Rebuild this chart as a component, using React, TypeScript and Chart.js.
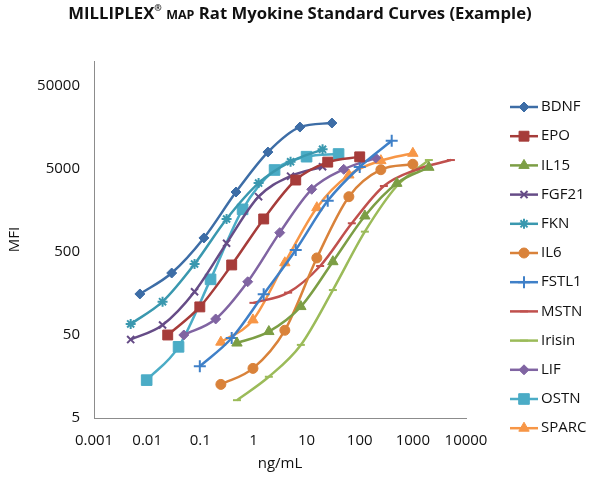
import React, { useEffect, useRef } from 'react';
import { Chart, registerables } from 'chart.js';
import { drawPoint } from 'chart.js/helpers';

Chart.register(...registerables);

// series names, in legend order
const seriesNames = ['BDNF', 'EPO', 'IL15', 'FGF21', 'FKN', 'IL6', 'FSTL1', 'MSTN', 'Irisin', 'LIF', 'OSTN', 'SPARC'];

// concentrations (ng/mL) and MFI per analyte
const bdnfConc = [0.0073, 0.029, 0.117, 0.47, 1.875, 7.5, 30];
const bdnfMfi = [156, 279, 738, 2640, 8000, 16000, 17900];

const epoConc = [0.0244, 0.098, 0.39, 1.56, 6.25, 25, 100];
const epoMfi = [50, 109, 349, 1250, 3680, 6050, 7000];

const il15Conc = [0.49, 1.95, 7.8, 31.25, 125, 500, 2000];
const il15Mfi = [40, 55, 110, 382, 1358, 3364, 5240];

const fgf21Conc = [0.0049, 0.0195, 0.078, 0.3125, 1.25, 5, 20];
const fgf21Mfi = [44, 66, 166, 637, 2318, 4100, 5330];

const fknConc = [0.0049, 0.0195, 0.078, 0.3125, 1.25, 5, 20];
const fknMfi = [68, 126, 358, 1250, 3380, 6120, 8630];

const il6Conc = [0.244, 0.98, 3.9, 15.6, 62.5, 250, 1000];
const il6Mfi = [12.7, 19.8, 57, 424, 2318, 4900, 5700];

const fstl1Conc = [0.098, 0.39, 1.56, 6.25, 25, 100, 400];
const fstl1Mfi = [21, 46, 155, 529, 2070, 5290, 10960];

const mstnConc = [1, 4.5, 18, 71, 285, 1150, 5200];
const mstnMfi = [122, 162, 339, 1109, 3121, 4900, 6410];

const irisinConc = [0.49, 1.95, 7.8, 31.25, 125, 500, 2000];
const irisinMfi = [8.2, 15.7, 38, 174, 879, 3120, 6410];

const lifConc = [0.049, 0.195, 0.78, 3.125, 12.5, 50, 200];
const lifMfi = [50, 78, 219, 855, 2846, 4955, 6790];

const ostnConc = [0.0098, 0.039, 0.156, 0.625, 2.5, 10, 40];
const ostnMfi = [14.3, 36, 234, 1633, 4862, 7033, 7580];

const sparcConc = [0.244, 0.98, 3.9, 15.6, 62.5, 250, 1000];
const sparcMfi = [41, 76, 371, 1709, 4233, 6300, 7727];

const xTicks = [0.001, 0.01, 0.1, 1, 10, 100, 1000, 10000];
const yTicks = [5, 50, 500, 5000, 50000];

const concs = [bdnfConc, epoConc, il15Conc, fgf21Conc, fknConc, il6Conc, fstl1Conc, mstnConc, irisinConc, lifConc, ostnConc, sparcConc];
const mfis = [bdnfMfi, epoMfi, il15Mfi, fgf21Mfi, fknMfi, il6Mfi, fstl1Mfi, mstnMfi, irisinMfi, lifMfi, ostnMfi, sparcMfi];

const colors = ['#3D6DA6', '#A63C3A', '#7C9E45', '#664C87', '#3A98AF', '#D9823A', '#3F80C8', '#C0504D', '#9BBB59', '#8064A2', '#4BACC6', '#F79646'];
const markers = ['rectRot', 'rect', 'triangle', 'crossRot', 'star', 'circle', 'cross', 'line', 'line', 'rectRot', 'rect', 'triangle'];
const markerSizes = [5, 7, 6, 5, 5, 5, 6, 4, 4, 5, 7.5, 6];

const FONT = "'Open Sans', sans-serif";

const sideLegend = {
    id: 'sideLegend',
    afterDraw(chart: any) {
        const ctx = chart.ctx;
        chart.data.datasets.forEach((ds: any, i: number) => {
            const y = 107 + i * 29.2;
            ctx.save();
            ctx.strokeStyle = ds.borderColor;
            ctx.lineWidth = 2.5;
            ctx.beginPath();
            ctx.moveTo(510, y);
            ctx.lineTo(538, y);
            ctx.stroke();
            ctx.fillStyle = ds.pointBackgroundColor;
            ctx.strokeStyle = ds.pointBorderColor;
            ctx.lineWidth = ds.pointBorderWidth;
            drawPoint(ctx, { pointStyle: ds.pointStyle, radius: ds.pointRadius, rotation: 0, borderWidth: ds.pointBorderWidth }, 524, y);
            ctx.fillStyle = '#111';
            ctx.font = `15px ${FONT}`;
            ctx.textAlign = 'left';
            ctx.textBaseline = 'middle';
            ctx.fillText(ds.label, 541, y);
            ctx.restore();
        });
    },
};

const StandardCurves: React.FC = () => {
    const chartRef = useRef<HTMLCanvasElement>(null);

    useEffect(() => {
        if (!chartRef.current) return;
        const ctx = chartRef.current.getContext('2d');
        if (!ctx) return;

        const datasets = seriesNames.map((name, i) => {
            const lineLike = ['crossRot', 'star', 'cross', 'line'].includes(markers[i]);
            return {
                label: name,
                data: concs[i].map((c, j) => ({ x: c, y: mfis[i][j] })),
                borderColor: colors[i],
                backgroundColor: colors[i],
                borderWidth: 2.5,
                pointStyle: markers[i],
                pointRadius: markerSizes[i],
                pointBackgroundColor: colors[i],
                pointBorderColor: colors[i],
                pointBorderWidth: lineLike ? 2 : 1,
                cubicInterpolationMode: 'monotone' as const,
                fill: false,
            };
        });

        const chart = new Chart(ctx, {
            type: 'line',
            data: { datasets },
            options: {
                animation: false,
                responsive: true,
                maintainAspectRatio: false,
                layout: { padding: { top: 61, right: 134, left: 0, bottom: 0 } },
                scales: {
                    x: {
                        type: 'logarithmic',
                        min: 0.001,
                        max: 10000,
                        afterBuildTicks: (scale: any) => {
                            scale.ticks = xTicks.map(v => ({ value: v }));
                        },
                        afterFit: (scale: any) => {
                            scale.height = 59;
                        },
                        ticks: {
                            callback: (v: any) => String(v),
                            font: { family: FONT, size: 15 },
                            color: '#111',
                            padding: 14,
                            maxRotation: 0,
                            autoSkip: false,
                        },
                        grid: { display: false, drawTicks: false },
                        border: { display: true, color: '#8c8c8c', width: 1 },
                        title: {
                            display: true,
                            text: 'ng/mL',
                            font: { family: FONT, size: 15 },
                            color: '#111',
                            padding: { top: 4, bottom: 4 },
                        },
                    },
                    y: {
                        type: 'logarithmic',
                        min: 5,
                        max: 100000,
                        afterBuildTicks: (scale: any) => {
                            scale.ticks = yTicks.map(v => ({ value: v }));
                        },
                        afterFit: (scale: any) => {
                            scale.width = 94;
                        },
                        ticks: {
                            callback: (v: any) => String(v),
                            font: { family: FONT, size: 15 },
                            color: '#111',
                            padding: 14,
                            autoSkip: false,
                        },
                        grid: { display: false, drawTicks: false },
                        border: { display: true, color: '#8c8c8c', width: 1 },
                        title: {
                            display: true,
                            text: 'MFI',
                            font: { family: FONT, size: 15 },
                            color: '#111',
                            padding: { top: 6, bottom: 4 },
                        },
                    },
                },
                plugins: {
                    legend: { display: false },
                    title: { display: false },
                    tooltip: { enabled: false },
                },
            },
            plugins: [sideLegend],
        });

        return () => {
            chart.destroy();
        };
    }, []);

    return (
        <div style={{ position: 'absolute', left: 0, top: 0, width: 600, height: 477, background: '#fff' }}>
            <div
                style={{
                    position: 'absolute',
                    top: 1,
                    left: 0,
                    width: 600,
                    textAlign: 'center',
                    fontFamily: FONT,
                    fontWeight: 700,
                    fontSize: 16.7,
                    color: '#111',
                    lineHeight: '24px',
                    zIndex: 1,
                }}
            >
                MILLIPLEX<sup style={{ fontSize: 9, verticalAlign: 'top', lineHeight: '14px' }}>®</sup>{' '}
                <span style={{ fontSize: 12.5 }}>MAP</span> Rat Myokine Standard Curves (Example)
            </div>
            <canvas ref={chartRef}></canvas>
        </div>
    );
};

export default function App() {
    return <StandardCurves />;
}
